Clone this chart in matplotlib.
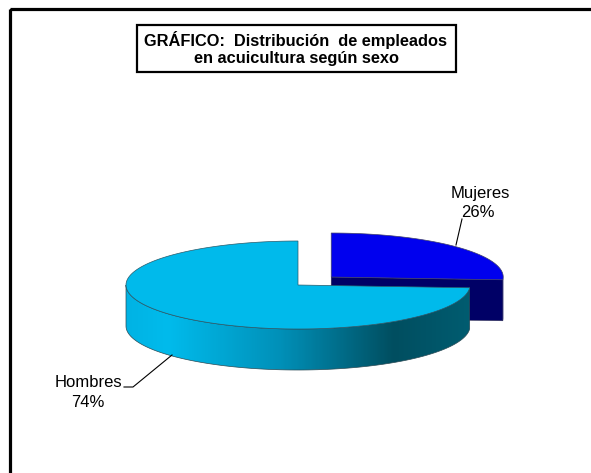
import numpy as np
import matplotlib.pyplot as plt
from matplotlib.patches import Polygon, Rectangle
from matplotlib.colors import LinearSegmentedColormap

labels = ["Mujeres", "Hombres"]
shares = [26, 74]
top_colors = ["#0000EE", "#00BAEB"]
side_colors = ["#000066", None]
explode = [0.265, 0.0]

plt.rcParams['font.family'] = ['Liberation Sans', 'DejaVu Sans']

fig = plt.figure(figsize=(5.91, 4.73), dpi=100)
ax = fig.add_axes([0, 0, 1, 1])
ax.set_xlim(0, 591)
ax.set_ylim(473, 0)
ax.axis('off')

# pie geometry in pixels
cx, cy = 298, 285
a, b = 172, 44
depth = 41


def pt(c, theta, r=1.0, z=0.0):
    t = np.radians(theta)
    return c[0] + a * r * np.cos(t), c[1] - b * r * np.sin(t) + z


def arc(c, t0, t1, z=0.0, n=120):
    ts = np.linspace(t0, t1, n)
    return [pt(c, t, 1.0, z) for t in ts]


# slice angles, start at 12 o'clock going clockwise
total = sum(shares)
starts, ends = [], []
ang = 90.0
for s in shares:
    starts.append(ang)
    ang -= 360.0 * s / total
    ends.append(ang)

centers = []
for i in range(len(shares)):
    mid = np.radians((starts[i] + ends[i]) / 2)
    e = explode[i]
    centers.append((cx + a * e * np.cos(mid), cy - b * e * np.sin(mid)))

# Mujeres (back slice)
cm = centers[0]
t_end = ends[0]
face = [pt(cm, t_end, 0), pt(cm, t_end, 1), pt(cm, t_end, 1, depth), pt(cm, t_end, 0, depth)]
ax.add_patch(Polygon(face, closed=True, fc=side_colors[0], ec="#333355", lw=0.4, zorder=2))
outer = arc(cm, t_end, 0) + arc(cm, 0, t_end, depth)
ax.add_patch(Polygon(outer, closed=True, fc=side_colors[0], ec="none", zorder=2))
top_m = [cm] + arc(cm, starts[0], ends[0])
ax.add_patch(Polygon(top_m, closed=True, fc=top_colors[0], ec="#40406a", lw=0.5, zorder=3))

# Hombres (front slice)
ch = centers[1]
h_lo, h_hi = ends[1] + 360, starts[1] + 360  # 90 .. 356.4
side_pts = arc(ch, 180, h_hi) + arc(ch, h_hi, 180, depth)
side = Polygon(side_pts, closed=True, fc="none", ec="#2a4a55", lw=0.5, zorder=5)
ax.add_patch(side)
grad = LinearSegmentedColormap.from_list(
    "side",
    [(0.0, "#00B3E4"), (0.12, "#00BBEC"), (0.45, "#0090B8"),
     (0.78, "#004E60"), (1.0, "#005C70")])
xs = np.linspace(0, 1, 300).reshape(1, -1)
x0, x1 = ch[0] - a, ch[0] + a
img = ax.imshow(xs, cmap=grad, extent=(x0, x1, ch[1] + b + depth + 2, ch[1] - 2),
                aspect='auto', zorder=4, interpolation='bilinear')
img.set_clip_path(side)
ax.set_xlim(0, 591)
ax.set_ylim(473, 0)

top_h = [ch] + arc(ch, h_hi, h_lo, n=300)
ax.add_patch(Polygon(top_h, closed=True, fc=top_colors[1], ec="#2a5a6a", lw=0.5, zorder=6))

# data labels with leader lines
pcts = [f"{round(100 * s / total)}%" for s in shares]
ax.text(480, 193, labels[0], ha='center', va='center', fontsize=12, zorder=8)
ax.text(478, 212, pcts[0], ha='center', va='center', fontsize=12, zorder=8)
ax.plot([462, 456], [219, 245], color='black', lw=0.8, zorder=8)
ax.text(88, 382, labels[1], ha='center', va='center', fontsize=12, zorder=8)
ax.text(88, 402, pcts[1], ha='center', va='center', fontsize=12, zorder=8)
ax.plot([124, 133, 172], [387, 387, 355], color='black', lw=0.8, zorder=8)

# title box
ax.add_patch(Rectangle((137, 25), 319, 47, fc='white', ec='black', lw=1.6, zorder=7))
ax.text(296, 40, "GRÁFICO:  Distribución  de empleados", ha='center', va='center',
        fontsize=11.8, fontweight='bold', zorder=8)
ax.text(296, 58, "en acuicultura según sexo", ha='center', va='center',
        fontsize=11.8, fontweight='bold', zorder=8)

# chart border
ax.add_patch(Rectangle((9.5, 9.5), 600, 500, fc='none', ec='black', lw=2.3,
                       zorder=9, clip_on=False))

fig.savefig("out.png", dpi=100)
